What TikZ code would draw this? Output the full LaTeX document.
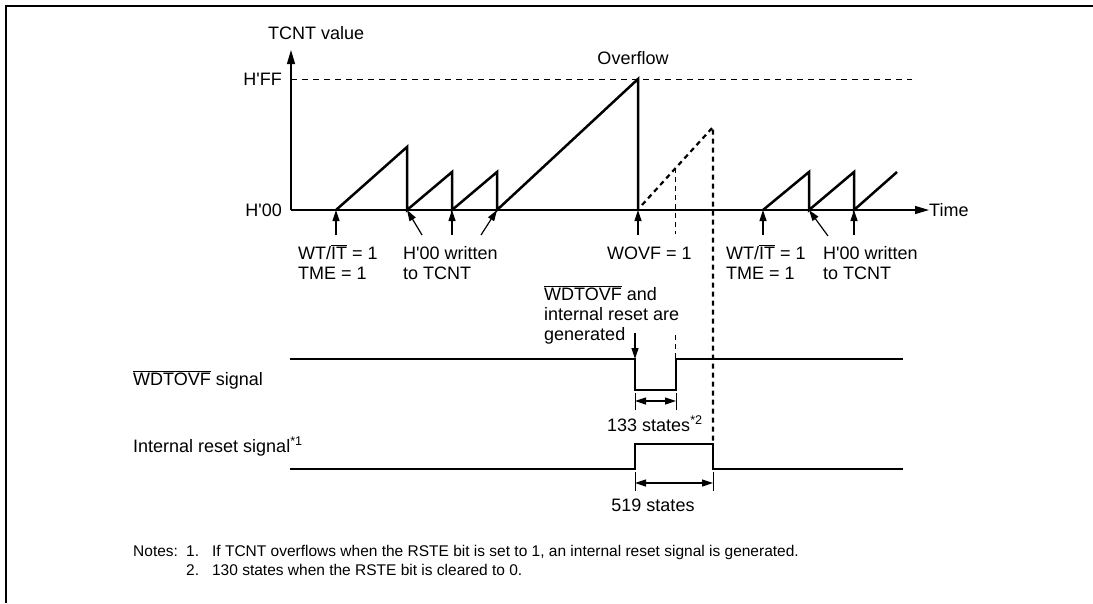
\documentclass[tikz,border=0pt]{standalone}
\usepackage{fontspec}
\setmainfont{Liberation Sans}
\usetikzlibrary{arrows.meta,positioning,calc}
\newcommand{\ovl}[1]{$\overline{\hbox{#1}}$}
\newcommand{\ap}{\textquotesingle}
\tikzset{
  frameline/.style={line width=2pt},
  axisline/.style={line width=1.2pt, -{Triangle[length=14pt,width=8pt]}},
  sigline/.style={line width=2.5pt, line join=miter},
  refdash/.style={line width=1pt, dash pattern=on 6pt off 5pt},
  thindash/.style={line width=1pt, dash pattern=on 5pt off 4pt},
  thickdash/.style={line width=2.2pt, dash pattern=on 5pt off 4pt},
  markarrow/.style={line width=1.2pt, -{Triangle[length=11pt,width=7pt]}},
  dimarrow/.style={line width=1.2pt, {Triangle[length=11pt,width=7pt]}-{Triangle[length=11pt,width=7pt]}},
  tickline/.style={line width=1pt},
  lbl/.style={font=\fontsize{18}{20}\selectfont, inner sep=0pt, align=left},
  notetext/.style={font=\fontsize{15.5}{19}\selectfont, inner sep=0pt}
}

\begin{document}
\begin{tikzpicture}[x=1pt, y=-1pt]
  \useasboundingbox (0,0) rectangle (1093,603);

  % --- frame ---
  \draw[frameline] (6,603) -- (6,6) -- (1093,6);

  % --- axes ---
  \coordinate (orig) at (291,210);
  \coordinate (ytip) at (291,50);
  \node[lbl, anchor=base west] (tcnt) at (268,39) {TCNT value};
  \node[lbl, anchor=west] (time) at (929,210) {Time};
  \node[lbl, anchor=east] (hff) at (282,79) {H\ap FF};
  \node[lbl, anchor=east] (hzero) at (282,210) {H\ap 00};
  \draw[axisline] (orig) -- (ytip);
  \draw[axisline] (orig) -- (time.west);
  \coordinate (ffl) at (291,79);
  \coordinate (ffr) at (912,79);
  \draw[refdash] (ffl) -- (ffr);
  \node[lbl, anchor=base] (ovfl) at (633,64) {Overflow};

  % --- counter ramps ---
  \coordinate (a0) at (336,210);  \coordinate (a1) at (407,147);
  \coordinate (a2) at (407,210);  \coordinate (b1) at (452,172);
  \coordinate (b2) at (452,210);  \coordinate (c1) at (497,172);
  \coordinate (c2) at (497,210);  \coordinate (ovf) at (638,79);
  \coordinate (ovf0) at (638,210);
  \draw[sigline] (a0) -- (a1) -- (a2) -- (b1) -- (b2) -- (c1) -- (c2) -- (ovf) -- (ovf0);

  \coordinate (e0) at (763,210);  \coordinate (e1) at (809,172);
  \coordinate (e2) at (809,210);  \coordinate (f1) at (854,172);
  \coordinate (f2) at (854,210);  \coordinate (g1) at (897,172);
  \draw[sigline] (e0) -- (e1) -- (e2) -- (f1) -- (f2) -- (g1);

  % dashed continuation after overflow
  \coordinate (d0) at (642,205);
  \coordinate (dm) at (675,168);
  \coordinate (d1) at (713,127);
  \draw[thickdash] (d0) -- (d1) -- (713,444);
  \draw[thindash] (dm) -- (675,234);
  \draw[thindash] (675,335) -- (675,359);

  % --- event markers ---
  \draw[markarrow] (336,235) -- (a0);
  \draw[markarrow] (422,235) -- (a2);
  \draw[markarrow] (452,235) -- (b2);
  \draw[markarrow] (481,235) -- (c2);
  \draw[markarrow] (638,235) -- (ovf0);
  \draw[markarrow] (763,235) -- (e0);
  \draw[markarrow] (828,236) -- (e2);
  \draw[markarrow] (854,235) -- (f2);

  \node[lbl, anchor=base west] (wt1) at (298,279) {WT/\ovl{IT} = 1\\TME = 1};
  \node[lbl, anchor=base west] (wr1) at (403,279) {H\ap 00 written\\to TCNT};
  \node[lbl, anchor=base west] (wovf) at (607,259) {WOVF = 1};
  \node[lbl, anchor=base west] (wt2) at (726,279) {WT/\ovl{IT} = 1\\TME = 1};
  \node[lbl, anchor=base west] (wr2) at (823,279) {H\ap 00 written\\to TCNT};
  \node[lbl, anchor=base west] (gen) at (544,340) {\ovl{WDTOVF} and\\internal reset are\\generated};

  % --- WDTOVF signal ---
  \node[lbl, anchor=base west] (wsig) at (133,385) {\ovl{WDTOVF} signal};
  \coordinate (w0) at (290,359);  \coordinate (wf) at (635,359);
  \coordinate (wfl) at (635,390); \coordinate (wrl) at (676,390);
  \coordinate (wr) at (676,359);  \coordinate (wend) at (903,359);
  \draw[sigline] (w0) -- (wf) -- (wfl) -- (wrl) -- (wr) -- (wend);
  \draw[markarrow] (635,333) -- (wf);

  \draw[tickline] (635,393) -- (635,410);
  \draw[tickline] (676,393) -- (676,410);
  \draw[dimarrow] (635,401) -- (676,401);
  \node[lbl, anchor=base west] (s133) at (607,431) {133 states\textsuperscript{*2}};

  % --- internal reset signal ---
  \node[lbl, anchor=base west] (rsig) at (133,452) {Internal reset signal\textsuperscript{*1}};
  \coordinate (r0) at (290,469);  \coordinate (rf) at (635,469);
  \coordinate (rfh) at (635,444); \coordinate (rrh) at (713,444);
  \coordinate (rr) at (713,469);  \coordinate (rend) at (903,469);
  \draw[sigline] (r0) -- (rf) -- (rfh) -- (rrh) -- (rr) -- (rend);

  \draw[tickline] (635,472) -- (635,491);
  \draw[tickline] (713,472) -- (713,491);
  \draw[dimarrow] (635,483) -- (713,483);
  \node[lbl, anchor=base] (s519) at (653,511) {519 states};

  % --- notes ---
  \node[notetext, anchor=base west] (notes) at (133,556) {Notes:};
  \node[notetext, anchor=base west] (note1) at (186,556) {1.\hspace{13pt}If TCNT overflows when the RSTE bit is set to 1, an internal reset signal is generated.};
  \node[notetext, anchor=base west] (note2) at (186,575) {2.\hspace{13pt}130 states when the RSTE bit is cleared to 0.};

\end{tikzpicture}
\end{document}
